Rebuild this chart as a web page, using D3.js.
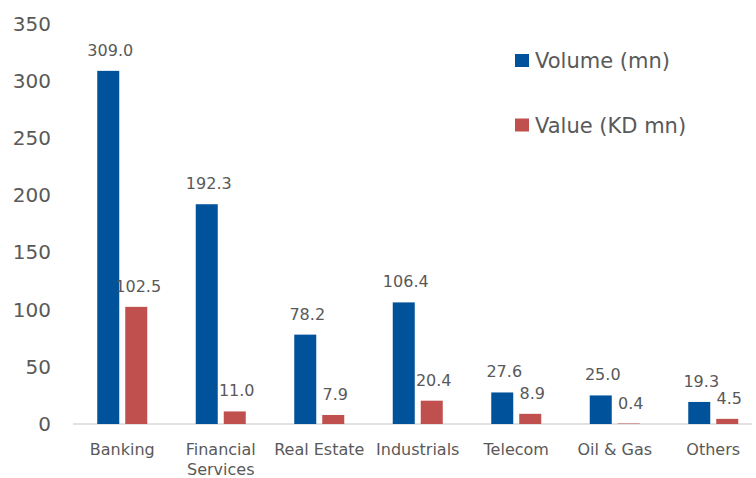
<!DOCTYPE html>
<html><head><meta charset="utf-8">
<script src="https://cdn.jsdelivr.net/npm/d3@7"></script>
<style>body{margin:0;background:#fff}svg{display:block}text{font-family:"DejaVu Sans",Verdana,sans-serif;fill:#595959}</style>
</head><body>
<svg id="chart" width="756" height="478"></svg>
<script>
const categories = ["Banking", "Financial\nServices", "Real Estate", "Industrials", "Telecom", "Oil & Gas", "Others"];
const seriesNames = ["Volume (mn)", "Value (KD mn)"];
const volume = [309.0, 192.3, 78.2, 106.4, 27.6, 25.0, 19.3];
const value = [102.5, 11.0, 7.9, 20.4, 8.9, 0.4, 4.5];
const yTicks = [0, 50, 100, 150, 200, 250, 300, 350];
const colors = ["#00529b", "#c0504d"];

const svg = d3.select("#chart");
const y = d3.scaleLinear().domain([0, 350]).range([424, 24]);
const x0 = d3.scaleBand().domain(categories).range([73, 762.5]).padding(0);
const x1 = d3.scaleBand().domain(seriesNames).range([0, x0.bandwidth()]).paddingInner(0.214).paddingOuter(0.866);

// y axis labels
const yAxis = d3.axisLeft(y).tickValues(yTicks).tickSize(0).tickPadding(22).tickFormat(d3.format("d"));
const ga = svg.append("g").attr("transform", "translate(73,0)").call(yAxis);
ga.select(".domain").remove();
ga.selectAll("text").attr("font-size", 20).attr("fill", "#595959").style("font-family", '"DejaVu Sans",Verdana,sans-serif');

// baseline
svg.append("line").attr("x1", 73).attr("x2", 752).attr("y1", y(0)).attr("y2", y(0))
  .attr("stroke", "#d9d9d9").attr("stroke-width", 1.5);

const data = [volume, value];
data.forEach((vals, si) => {
  const g = svg.append("g");
  g.selectAll("rect").data(vals).join("rect")
    .attr("x", (d, i) => x0(categories[i]) + x1(seriesNames[si]))
    .attr("width", x1.bandwidth())
    .attr("y", d => y(d))
    .attr("height", d => y(0) - y(d))
    .attr("fill", colors[si]);
  g.selectAll("text").data(vals).join("text")
    .attr("x", (d, i) => x0(categories[i]) + x1(seriesNames[si]) + x1.bandwidth() / 2 + 2)
    .attr("y", d => y(d) - 15)
    .attr("text-anchor", "middle")
    .attr("font-size", 16)
    .text(d => d.toFixed(1));
});

// category labels
const cl = svg.append("g");
categories.forEach(c => {
  const lines = c.split("\n");
  const t = cl.append("text").attr("text-anchor", "middle").attr("font-size", 16)
    .attr("x", x0(c) + x0.bandwidth() / 2).attr("y", 455);
  lines.forEach((ln, k) => {
    t.append("tspan").attr("x", x0(c) + x0.bandwidth() / 2).attr("dy", k === 0 ? 0 : 20).text(ln);
  });
});

// legend
const lg = svg.append("g");
seriesNames.forEach((s, i) => {
  const yy = 54 + i * 64.5;
  lg.append("rect").attr("x", 515).attr("y", yy).attr("width", 14).attr("height", 13).attr("fill", colors[i]);
  lg.append("text").attr("x", 535).attr("y", yy + 7).attr("dy", "0.35em").attr("font-size", 21).text(s);
});
</script>
</body></html>
